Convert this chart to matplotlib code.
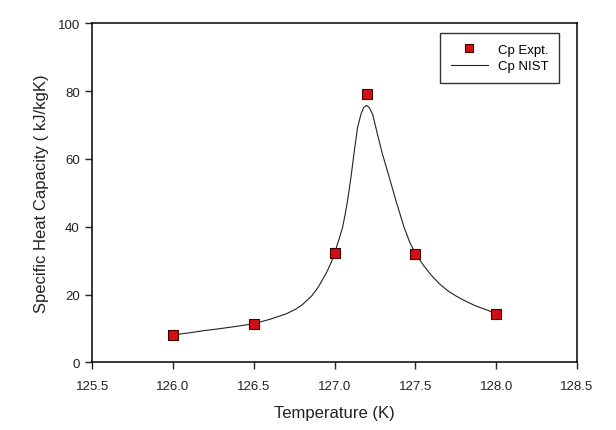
import matplotlib
matplotlib.use("Agg")
import matplotlib.pyplot as plt

plt.rcParams['font.family'] = ['Liberation Sans', 'DejaVu Sans']

# Experimental points
expt_T = [126.0, 126.5, 127.0, 127.2, 127.5, 128.0]
expt_cp = [8.1, 11.4, 32.3, 79.1, 32.1, 14.3]

# NIST curve
nist_T = [126.0, 126.1, 126.185, 126.3, 126.39, 126.5, 126.6, 126.7, 126.76,
          126.8, 126.86, 126.9, 126.95, 126.98, 127.0, 127.025, 127.049,
          127.065, 127.08, 127.101, 127.122, 127.142, 127.163, 127.18, 127.198,
          127.215, 127.235, 127.265, 127.296, 127.338, 127.379, 127.43, 127.465,
          127.5, 127.55, 127.6, 127.65, 127.7, 127.75, 127.8, 127.87, 127.95, 128.0]
nist_cp = [8.1, 8.7, 9.3, 10.0, 10.6, 11.4, 12.7, 14.3, 15.7,
           17.0, 19.7, 22.3, 26.5, 29.6, 32.3, 36.0, 39.8,
           43.6, 47.7, 54.6, 62.4, 69.3, 73.2, 75.2, 75.8,
           75.1, 73.2, 67.3, 61.4, 54.6, 47.7, 39.8, 35.4,
           32.1, 28.6, 25.6, 23.1, 21.1, 19.6, 18.3, 16.7, 15.3, 14.3]

xticks = [125.5, 126.0, 126.5, 127.0, 127.5, 128.0, 128.5]
yticks = [0, 20, 40, 60, 80, 100]

fig = plt.figure(figsize=(6.16, 4.31), dpi=100)
ax = fig.add_axes([0.1498, 0.157, 0.7869, 0.7866])

ax.plot(expt_T, expt_cp, linestyle='none', marker='s', markersize=7,
        markerfacecolor='#d40f14', markeredgecolor='#3a0000', markeredgewidth=0.8,
        label='Cp Expt.', zorder=3)
ax.plot(nist_T, nist_cp, color='#222222', linewidth=0.8, label='Cp NIST', zorder=2,
        solid_joinstyle='round')

ax.set_xlim(125.5, 128.5)
ax.set_ylim(0, 100)
ax.set_xticks(xticks)
ax.set_xticklabels([f"{t:.1f}" for t in xticks])
ax.set_yticks(yticks)
ax.tick_params(direction='out', length=5, width=1, labelsize=9.5, colors='#222222',
               top=False, right=False)
ax.tick_params(axis='x', pad=8)
ax.tick_params(axis='y', pad=4)
for s in ax.spines.values():
    s.set_linewidth(1.1)
    s.set_color('black')

ax.set_xlabel('Temperature (K)', fontsize=12, labelpad=9, color='#222222')
ax.set_ylabel('Specific Heat Capacity ( kJ/kgK)', fontsize=12, labelpad=6, color='#222222')

leg = ax.legend(loc='upper right', bbox_to_anchor=(0.977, 0.99), fontsize=9.5,
                frameon=True, fancybox=False, edgecolor='black', handlelength=2.8,
                markerscale=0.8, borderpad=0.8, labelspacing=0.3)
leg.get_frame().set_linewidth(1.0)

fig.savefig('out.png', dpi=100)
